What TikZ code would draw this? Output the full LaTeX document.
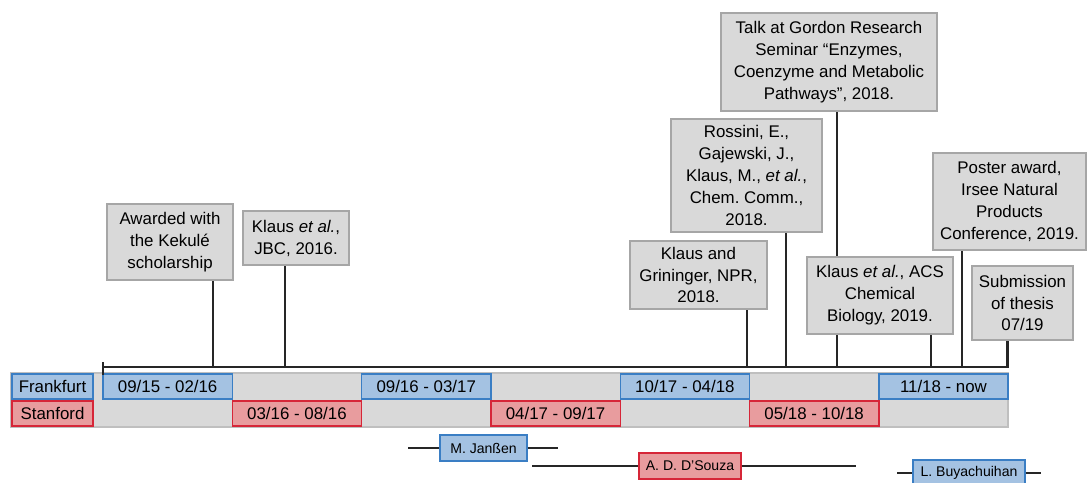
\documentclass[tikz,border=0pt]{standalone}
\usepackage{fontspec}
\setmainfont{Liberation Sans}
\frenchspacing
\usetikzlibrary{backgrounds}
\definecolor{boxfill}{RGB}{217,217,217}
\definecolor{boxline}{RGB}{166,166,166}
\definecolor{bandline}{RGB}{191,191,191}
\definecolor{frfill}{RGB}{164,194,226}
\definecolor{frline}{RGB}{58,126,196}
\definecolor{stfill}{RGB}{232,156,158}
\definecolor{stline}{RGB}{214,38,56}
\definecolor{lineclr}{RGB}{38,38,38}
\tikzset{
  % Voqea qutilari
  evbox/.style 2 args = {draw=boxline, fill=boxfill, line width=1pt, align=center,
                         inner sep=0pt, minimum width=#1*0.25mm, minimum height=#2*0.25mm,
                         font=\fontsize{12}{15.6}\selectfont},
  % Davr qutilari
  period/.style  = {inner sep=0pt, line width=1pt, minimum width=129.3*0.25mm,
                    minimum height=25*0.25mm, font=\fontsize{12}{14}\selectfont},
  frbox/.style   = {period, fill=frfill, draw=frline},
  stbox/.style   = {period, fill=stfill, draw=stline},
  rowlab/.style  = {inner sep=0pt, line width=1pt, minimum width=81*0.25mm,
                    minimum height=25*0.25mm, font=\fontsize{12}{14}\selectfont},
  % Talabalar
  pupil/.style   = {inner sep=0pt, line width=1pt, minimum height=26*0.25mm,
                    font=\fontsize{10}{12}\selectfont},
  % Chiziqlar
  axisline/.style = {line width=2pt, draw=lineclr},
  conn/.style     = {line width=1.5pt, draw=lineclr},
}
\begin{document}
\begin{tikzpicture}[x=0.25mm, y=-0.25mm]
  \useasboundingbox (0,0) rectangle (1087,482);
  \clip (0,0) rectangle (1087,482);
  % Fon tasmasi
  \node[draw=bandline, fill=boxfill, line width=1.2pt, inner sep=0pt,
        minimum width=997*0.25mm, minimum height=54*0.25mm] (band) at (509.5,400) {};
  \node[rowlab, fill=frfill, draw=frline] (frank) at (52.5,386.5) {Frankfurt};
  \node[rowlab, fill=stfill, draw=stline] (stan) at (52.5,413.5) {Stanford};
  % Davrlar
  \foreach \lab [count=\i from 0] in {{09/15 - 02/16},{09/16 - 03/17},{10/17 - 04/18},{11/18 - now}}
    \node[frbox] (f\i) at ({103+(2*\i+0.5)*129.3},386.5) {\lab};
  \foreach \lab [count=\i from 0] in {{03/16 - 08/16},{04/17 - 09/17},{05/18 - 10/18}}
    \node[stbox] (s\i) at ({103+(2*\i+1.5)*129.3},413.5) {\lab};
  % Vaqt o'qi
  \coordinate (ax0) at (103,367);
  \coordinate (ax1) at (1008.5,367);
  \draw[axisline] (ax0) -- (ax1);
  \draw[axisline] ([yshift=-8*0.25mm]ax0) -- ([yshift=5*0.25mm]ax0);
  % Voqealar
  \node[evbox={126}{76}] (aw) at (170,242) {Awarded with\\the Kekulé\\scholarship};
  \node[evbox={106}{54}] (jbc) at (296,238) {Klaus \textit{et al.},\\JBC, 2016.};
  \node[evbox={151}{113}] (ros) at (746.5,175.5) {Rossini, E.,\\Gajewski, J.,\\Klaus, M., \textit{et al.},\\Chem. Comm.,\\2018.};
  \node[evbox={137}{68}] (npr) at (698.5,275) {Klaus and\\Grininger, NPR,\\2018.};
  \node[evbox={216}{98}] (grc) at (829,62) {Talk at Gordon Research\\Seminar “Enzymes,\\Coenzyme and Metabolic\\Pathways”, 2018.};
  \node[evbox={146}{77}] (acs) at (880,295.5) {Klaus \textit{et al.}, ACS\\Chemical\\Biology, 2019.};
  \node[evbox={153}{97}] (pos) at (1009.5,201.5) {Poster award,\\Irsee Natural\\Products\\Conference, 2019.};
  \node[evbox={101}{74}] (sub) at (1022.5,303) {Submission\\of thesis\\07/19};
  % Ulovchi chiziqlar
  \coordinate (t-aw)  at (212.7,367);
  \coordinate (t-jbc) at (285,367);
  \coordinate (t-npr) at (747,367);
  \coordinate (t-ros) at (786,367);
  \coordinate (t-grc) at (837,367);
  \coordinate (t-acs) at (931,367);
  \coordinate (t-pos) at (962,367);
  \coordinate (t-sub) at (1007.5,367);
  \begin{scope}[on background layer]
    \foreach \ev in {aw,jbc,npr,ros,grc,acs,pos,sub}
      \draw[conn] (t-\ev) -- (t-\ev |- \ev.south);
  \end{scope}
  % Talabalar
  \node[pupil, fill=frfill, draw=frline, minimum width=87*0.25mm] (jan) at (483.5,448) {M. Janßen};
  \coordinate (janL) at (408,448);
  \coordinate (janR) at (558,448);
  \draw[conn] (janL) -- (jan.west) (jan.east) -- (janR);
  \node[pupil, fill=stfill, draw=stline, minimum width=102*0.25mm] (dso) at (690,466) {A. D. D’Souza};
  \coordinate (dsoL) at (532,466);
  \coordinate (dsoR) at (856,466);
  \draw[conn] (dsoL) -- (dso.west) (dso.east) -- (dsoR);
  \node[pupil, fill=frfill, draw=frline, minimum width=112*0.25mm] (buy) at (969,473) {L. Buyachuihan};
  \coordinate (buyL) at (897,473);
  \coordinate (buyR) at (1041,473);
  \draw[conn] (buyL) -- (buy.west) (buy.east) -- (buyR);
\end{tikzpicture}
\end{document}
